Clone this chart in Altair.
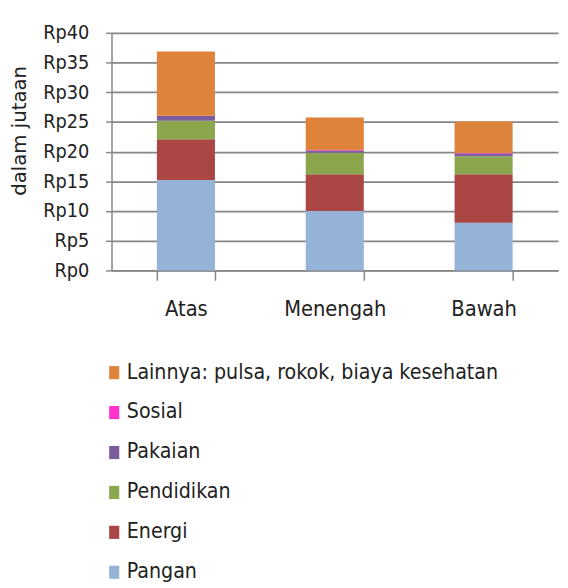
import altair as alt
import pandas as pd

groups = ["Atas", "Menengah", "Bawah"]
categories = ["Pangan", "Energi", "Pendidikan", "Pakaian", "Sosial",
              "Lainnya: pulsa, rokok, biaya kesehatan"]
colors = ["#95B3D7", "#AA4644", "#8BA64C", "#7B5D9D", "#FF33CC", "#DD833C"]
values = {
    "Pangan": [15.2, 10.0, 8.0],
    "Energi": [6.9, 6.2, 8.2],
    "Pendidikan": [3.1, 3.6, 3.0],
    "Pakaian": [0.8, 0.4, 0.5],
    "Sosial": [0.05, 0.05, 0.05],
    "Lainnya: pulsa, rokok, biaya kesehatan": [10.8, 5.5, 5.3],
}
y_ticks = [0, 5, 10, 15, 20, 25, 30, 35, 40]

rows = []
for ci, c in enumerate(categories):
    for gi, g in enumerate(groups):
        rows.append({"kelompok": g, "kategori": c, "nilai": values[c][gi], "urut": ci})
df = pd.DataFrame(rows)

narrow = "DejaVu Sans Condensed, Liberation Sans Narrow, sans-serif"
gray = "#868686"

chart = alt.Chart(df).mark_bar(stroke=None).encode(
    x=alt.X("kelompok:N", sort=groups,
            scale=alt.Scale(paddingInner=0.61, paddingOuter=0.305),
            axis=alt.Axis(title=None, labelAngle=0, tickBand="extent",
                          labelFont=narrow, labelFontSize=22, labelColor="#222",
                          tickSize=10, tickColor=gray, tickWidth=1.5,
                          domainColor=gray, domainWidth=1.5,
                          labelPadding=19, grid=False)),
    y=alt.Y("sum(nilai):Q",
            scale=alt.Scale(domain=[0, 40], nice=False),
            axis=alt.Axis(values=y_ticks, labelExpr="'Rp' + datum.value",
                          title="dalam jutaan", titleFont="DejaVu Sans",
                          titleFontSize=20, titleFontWeight="normal",
                          titleColor="#222", titleX=-93, titleY=99,
                          titleAngle=270, titleAlign="center", titleBaseline="middle",
                          labelFont=narrow, labelFontSize=20, labelColor="#222",
                          labelPadding=17, tickSize=6, tickColor=gray, tickWidth=1.5,
                          domainColor=gray, domainWidth=1.5,
                          gridColor=gray, gridWidth=1.8)),
    color=alt.Color("kategori:N",
                    scale=alt.Scale(domain=categories, range=colors),
                    legend=alt.Legend(title=None, orient="none", legendX=-8, legendY=334,
                                      direction="vertical",
                                      values=list(reversed(categories)),
                                      symbolType="M-0.5,-0.65H0.5V0.65H-0.5Z",
                                      symbolSize=420, symbolStrokeWidth=0,
                                      labelFont=narrow, labelFontSize=21.5,
                                      labelColor="#222", labelOffset=2,
                                      labelLimit=500,
                                      rowPadding=17.5, padding=0)),
    order=alt.Order("urut:Q", sort="ascending"),
).properties(
    width=453, height=241,
    autosize=alt.AutoSizeParams(type="none"),
    padding={"left": 105, "top": 21, "right": 2, "bottom": 316},
).configure_view(stroke=None)

chart.save("out.html", embed_options={"renderer": "svg", "actions": False})
